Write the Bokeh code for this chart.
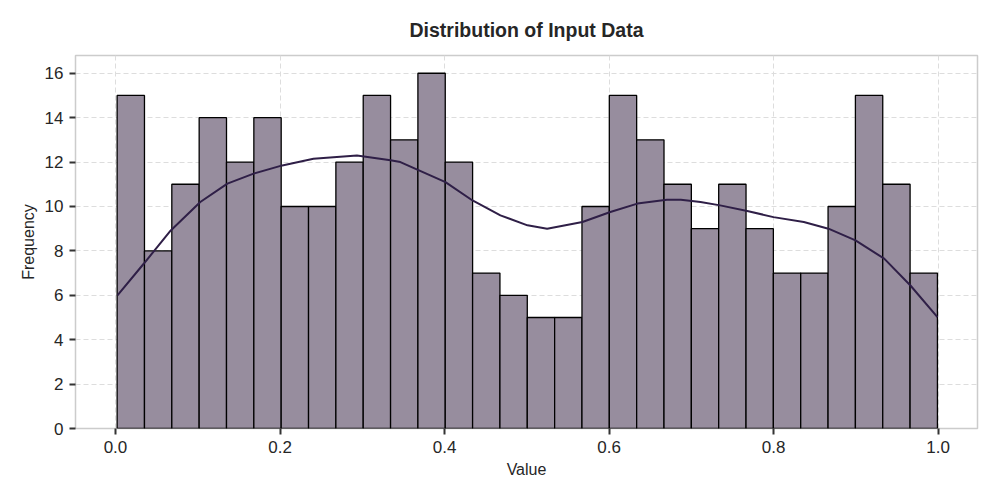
import numpy as np
from bokeh.plotting import figure
from bokeh.models import FixedTicker, Range1d, NumeralTickFormatter
from bokeh.embed import file_html
from bokeh.resources import INLINE

# Histogram data (30 bins)
bin_min = 0.002
bin_max = 0.9991
counts = [15, 8, 11, 14, 12, 14, 10, 10, 12, 15, 13, 16, 12, 7, 6,
          5, 5, 10, 15, 13, 11, 9, 11, 9, 7, 7, 10, 15, 11, 7]

# KDE curve
kde_x = [0.0024, 0.0343, 0.0672, 0.1031, 0.1360, 0.1679, 0.2028, 0.2406, 0.2935, 0.3343,
         0.3463, 0.4011, 0.4340, 0.4679, 0.5008, 0.5247, 0.5676, 0.6015, 0.6344, 0.6702,
         0.6872, 0.7111, 0.7350, 0.7679, 0.7998, 0.8367, 0.8666, 0.8995, 0.9344, 0.9663, 0.9991]
kde_y = [6.0, 7.42, 8.92, 10.2, 11.03, 11.48, 11.85, 12.15, 12.3, 12.08,
         12.0, 11.1, 10.27, 9.6, 9.15, 9.0, 9.3, 9.75, 10.13, 10.3,
         10.3, 10.2, 10.05, 9.8, 9.52, 9.3, 9.0, 8.47, 7.65, 6.44, 5.02]

x_ticks = [0.0, 0.2, 0.4, 0.6, 0.8, 1.0]
y_ticks = [0, 2, 4, 6, 8, 10, 12, 14, 16]

edges = np.linspace(bin_min, bin_max, len(counts) + 1)

FONT = "Liberation Sans"
TXT = "#262626"

p = figure(width=1000, height=500, output_backend="svg", toolbar_location=None,
           x_range=Range1d(-0.0486, 1.0478), y_range=Range1d(0, 16.8),
           title="Distribution of Input Data",
           min_border_left=75, min_border_right=23, min_border_top=55, min_border_bottom=72)

p.title.align = "center"
p.title.text_font = FONT
p.title.text_font_size = "19.5px"
p.title.text_font_style = "bold"
p.title.text_color = TXT
p.title.offset = 0
p.title.standoff = 30

p.quad(left=edges[:-1], right=edges[1:], bottom=0, top=counts,
       fill_color="#978d9e", fill_alpha=1.0, line_color="black", line_width=1.3)
p.line(kde_x, kde_y, line_color="#2f1f47", line_width=2)

p.outline_line_color = "#cccccc"
p.outline_line_width = 1.5

for ax in (p.xaxis[0], p.yaxis[0]):
    ax.axis_line_color = None
    ax.major_tick_line_color = "#333333"
    ax.major_tick_line_width = 2
    ax.major_tick_out = 6
    ax.major_tick_in = 0
    ax.minor_tick_line_color = None
    ax.major_label_text_font = FONT
    ax.major_label_text_font_size = "17px"
    ax.major_label_text_color = TXT
    ax.axis_label_text_font = FONT
    ax.axis_label_text_font_size = "16px"
    ax.axis_label_text_font_style = "normal"
    ax.axis_label_text_color = TXT

p.xaxis.ticker = FixedTicker(ticks=x_ticks)
p.xaxis.formatter = NumeralTickFormatter(format="0.0")
p.yaxis.ticker = FixedTicker(ticks=y_ticks)
p.xaxis.axis_label = "Value"
p.yaxis.axis_label = "Frequency"
p.xaxis.major_label_standoff = 6
p.yaxis.major_label_standoff = 6

p.grid.grid_line_color = "#dddddd"
p.grid.grid_line_dash = "5 3"
p.grid.grid_line_width = 1

p.background_fill_color = "white"
p.border_fill_color = "white"

open("out.html", "w").write(file_html(p, INLINE))
